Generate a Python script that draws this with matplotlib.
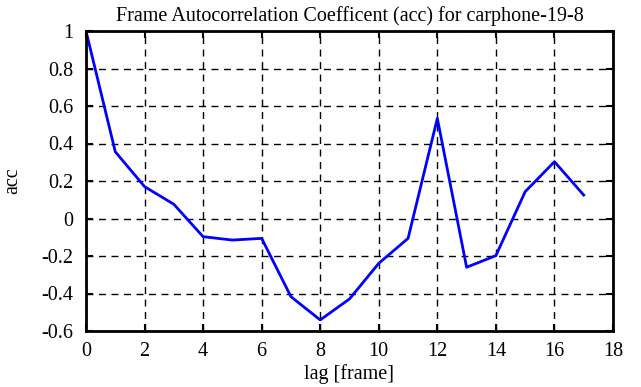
import matplotlib
matplotlib.use("Agg")
import matplotlib.pyplot as plt

lags = list(range(18))
acc = [1.0, 0.356, 0.17, 0.076, -0.097, -0.115, -0.106, -0.417, -0.541, -0.429,
       -0.239, -0.106, 0.534, -0.26, -0.198, 0.143, 0.303, 0.125]
xticks = list(range(0, 19, 2))
yticks = [-0.6, -0.4, -0.2, 0, 0.2, 0.4, 0.6, 0.8, 1]
ytick_labels = ["-0.6", "-0.4", "-0.2", "0", "0.2", "0.4", "0.6", "0.8", "1"]

plt.rcParams['font.family'] = ['Liberation Serif', 'DejaVu Serif']
fig = plt.figure(figsize=(6.41, 3.87), dpi=100)
ax = fig.add_axes([86/641, 1-331/387, (613-86)/641, 300/387])
ax.plot(lags, acc, color='#0000ff', lw=2)
ax.set_xlim(0, 18)
ax.set_ylim(-0.6, 1)
ax.set_xticks(xticks)
ax.set_yticks(yticks)
ax.set_yticklabels(ytick_labels)
ax.grid(True, color='black', linestyle=(0, (5, 4)), lw=1)
ax.tick_params(direction='in', top=True, right=True, length=5, width=1.5, labelsize=14.5)
ax.tick_params(axis='y', pad=9)
ax.tick_params(axis='x', pad=8)
for s in ax.spines.values():
    s.set_linewidth(2)
ax.set_xlabel('lag [frame]', fontsize=14.5, labelpad=2)
ax.set_ylabel('acc', fontsize=14.5, labelpad=14)
ax.set_title('Frame Autocorrelation Coefficent (acc) for carphone-19-8', fontsize=14.5, pad=7)
fig.savefig('out.png', dpi=100)
